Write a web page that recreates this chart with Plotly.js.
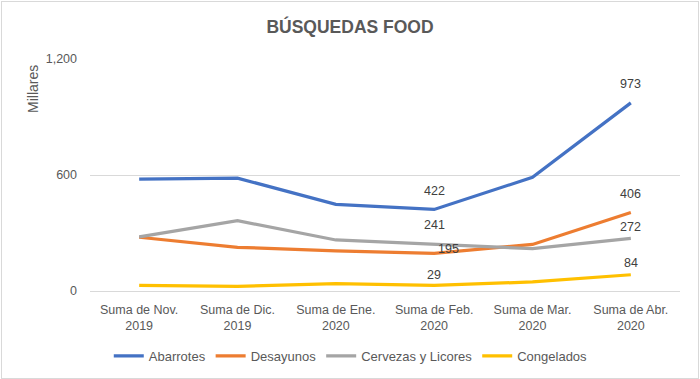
<!DOCTYPE html>
<html>
<head>
<meta charset="utf-8">
<script src="https://cdn.plot.ly/plotly-3.0.1.min.js"></script>
<style>
html,body{margin:0;padding:0;background:#fff;}
#wrap{position:relative;width:700px;height:379px;}
#chart{position:absolute;left:0;top:0;width:700px;height:379px;}
#frame{position:absolute;left:1px;top:1px;width:696px;height:376px;border:1px solid #d9d9d9;pointer-events:none;}
</style>
</head>
<body>
<div id="wrap"><div id="chart"></div><div id="frame"></div></div>
<script>
const categories = ["Suma de Nov.<br>2019","Suma de Dic.<br>2019","Suma de Ene.<br>2020","Suma de Feb.<br>2020","Suma de Mar.<br>2020","Suma de Abr.<br>2020"];
const abarrotes = [579, 584, 448, 422, 588, 973];
const desayunos = [278, 226, 208, 195, 241, 406];
const cervezas = [280, 364, 264, 241, 219, 272];
const congelados = [29, 24, 38, 29, 47, 84];
const labelIdx = [3, 5];
const seriesNames = ["Abarrotes","Desayunos","Cervezas y Licores","Congelados"];
const colors = ["#4472C4","#ED7D31","#A5A5A5","#FFC000"];
// label offsets (px) for [Feb, Abr] per series: [xshift, yshift]
const labelShift = [
  [[0,18],[0,19]],
  [[14,4],[0,19]],
  [[0,19],[0,11]],
  [[0,10],[0,12]]
];
const allSeries = [abarrotes, desayunos, cervezas, congelados];
const FONT = "Liberation Sans, Arial, sans-serif";

const traces = allSeries.map((vals, s) => ({
  x: categories, y: vals, name: seriesNames[s], type: "scatter", mode: "lines",
  line: {color: colors[s], width: 3.2}, cliponaxis: false, hoverinfo: "skip"
}));

const annotations = [];
allSeries.forEach((vals, s) => {
  labelIdx.forEach((i, k) => {
    annotations.push({
      x: categories[i], y: vals[i], xref: "x", yref: "y", text: String(vals[i]),
      showarrow: false, xanchor: "center", yanchor: "middle",
      xshift: labelShift[s][k][0], yshift: labelShift[s][k][1],
      font: {family: FONT, size: 12.5, color: "#404040"}
    });
  });
});
annotations.push({text: "Millares", xref: "paper", yref: "paper", x: -0.097, y: 0.87,
  xanchor: "center", yanchor: "middle", textangle: -90, showarrow: false,
  font: {family: FONT, size: 14, color: "#595959"}});

const layout = {
  width: 700, height: 379,
  margin: {l: 90, r: 20, t: 59, b: 88, autoexpand: false},
  paper_bgcolor: "rgba(0,0,0,0)", plot_bgcolor: "rgba(0,0,0,0)",
  font: {family: FONT, color: "#595959"},
  title: {text: "<b>BÚSQUEDAS FOOD</b>", x: 0.5, xanchor: "center", y: 0.93, yanchor: "middle",
          font: {family: FONT, size: 17.5, color: "#595959"}},
  xaxis: {type: "category", range: [-0.5, 5.5], showgrid: false, zeroline: false, showline: false,
          ticks: "", ticklabelstandoff: 9, tickfont: {size: 12.5, color: "#595959"}, fixedrange: true},
  yaxis: {range: [0, 1200], tickvals: [0, 600, 1200], ticktext: ["0","600","1,200"],
          showgrid: true, gridcolor: "#d9d9d9", gridwidth: 1, zeroline: true, zerolinecolor: "#d9d9d9",
          zerolinewidth: 1, showline: false, ticks: "", ticklabelstandoff: 12,
          tickfont: {size: 12.5, color: "#595959"}, fixedrange: true},
  showlegend: true,
  legend: {orientation: "h", x: 0.442, xanchor: "center", y: -0.215, yanchor: "top",
           font: {size: 13, color: "#595959"}, itemwidth: 30, tracegroupgap: 0},
  annotations: annotations
};
Plotly.newPlot("chart", traces, layout, {displayModeBar: false, staticPlot: true});
</script>
</body>
</html>
